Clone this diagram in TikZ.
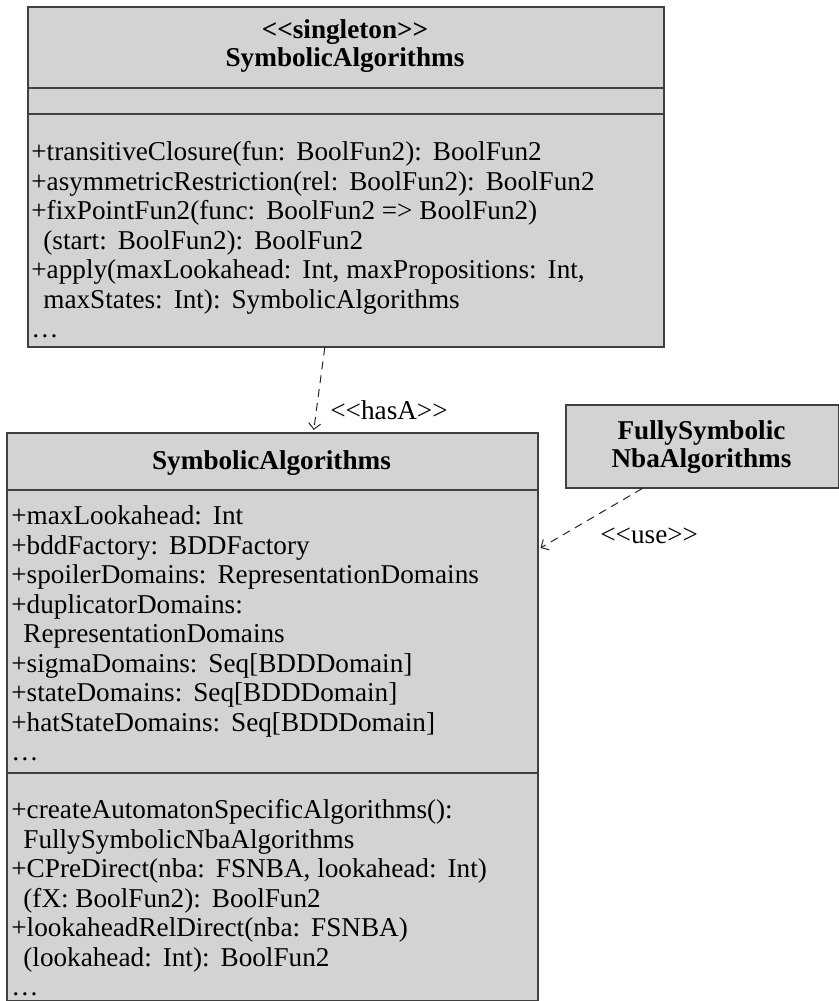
\documentclass[tikz,border=0pt]{standalone}
\usepackage{fontspec}
\setmainfont{Liberation Serif}[Ligatures=TeXOff]
\usetikzlibrary{arrows.meta}

\definecolor{umlfill}{RGB}{211,211,211}
\definecolor{umlline}{RGB}{64,64,64}
\newcommand\colonspace{\xspaceskip=5.5pt plus 1pt minus 0.5pt\relax}

\tikzset{
  classbox/.style={draw=umlline, fill=umlfill, line width=0.75pt, inner sep=0pt, anchor=north west},
  divider/.style={draw=umlline, line width=0.75pt},
  members/.style={anchor=north west, inner sep=0pt, align=left, font=\fontsize{13.6}{14.75}\selectfont\colonspace},
  classname/.style={inner sep=0pt, align=center, font=\fontsize{13.6}{14}\selectfont\bfseries},
  stereo/.style={inner sep=0pt, anchor=west, font=\fontsize{13.6}{14}\selectfont},
  dep/.style={draw=black!85, dash pattern=on 4pt off 3pt, line width=0.5pt, -{Straight Barb[length=3pt,width=6pt]}}
}

\begin{document}
\begin{tikzpicture}[x=0.5pt, y=-0.5pt]
  \useasboundingbox (0,0) rectangle (839,1001);

  % singleton object
  \node[classbox, minimum width=318pt, minimum height=170pt] (singleton) at (27,6) {};
  \draw[divider] (27,88) -- (663,88);
  \draw[divider] (27,114) -- (663,114);
  \node[classname] (singleton-name) at (345,46) {<<singleton>>\\SymbolicAlgorithms};
  \node[members] (singleton-ops) at (31,139.5) {\strut+transitiveClosure(fun: BoolFun2): BoolFun2\\
    +asymmetricRestriction(rel: BoolFun2): BoolFun2\\
    +fixPointFun2(func: BoolFun2 => BoolFun2)\\
    \hspace*{6pt}(start: BoolFun2): BoolFun2\\
    +apply(maxLookahead: Int, maxPropositions: Int,\\
    \hspace*{6pt}maxStates: Int): SymbolicAlgorithms\\
    \dots};

  % class
  \node[classbox, minimum width=265.5pt, minimum height=284pt] (algo) at (6,432) {};
  \draw[divider] (6,490) -- (537,490);
  \draw[divider] (6,773) -- (537,773);
  \node[classname] (algo-name) at (271.5,463) {SymbolicAlgorithms};
  \node[members] (algo-attrs) at (11,503.5) {\strut+maxLookahead: Int\\
    +bddFactory: BDDFactory\\
    +spoilerDomains: RepresentationDomains\\
    +duplicatorDomains:\\
    \hspace*{6pt}RepresentationDomains\\
    +sigmaDomains: Seq[BDDDomain]\\
    +stateDomains: Seq[BDDDomain]\\
    +hatStateDomains: Seq[BDDDomain]\\
    \dots};
  \node[members] (algo-ops) at (11,797.5) {\strut+createAutomatonSpecificAlgorithms():\\
    \hspace*{6pt}FullySymbolicNbaAlgorithms\\
    +CPreDirect(nba: FSNBA, lookahead: Int)\\
    \hspace*{6pt}(fX:\ BoolFun2): BoolFun2\\
    +lookaheadRelDirect(nba: FSNBA)\\
    \hspace*{6pt}(lookahead: Int): BoolFun2\\
    \dots};

  % other class
  \node[classbox, minimum width=136.5pt, minimum height=41.5pt] (fully) at (565,404) {};
  \node[classname] (fully-name) at (701.5,447) {FullySymbolic\\NbaAlgorithms};

  % dependencies
  \draw[dep] ([xshift=-10.5pt]singleton.south) -- ([xshift=20.75pt,yshift=1pt]algo.north);
  \node[stereo] (hasa) at (330,410) {<<hasA>>};
  \draw[dep] ([xshift=-30pt]fully.south) -- ([xshift=1pt,yshift=-58pt]algo.north east);
  \node[stereo] (use) at (600,536) {<<use>>};
\end{tikzpicture}
\end{document}
